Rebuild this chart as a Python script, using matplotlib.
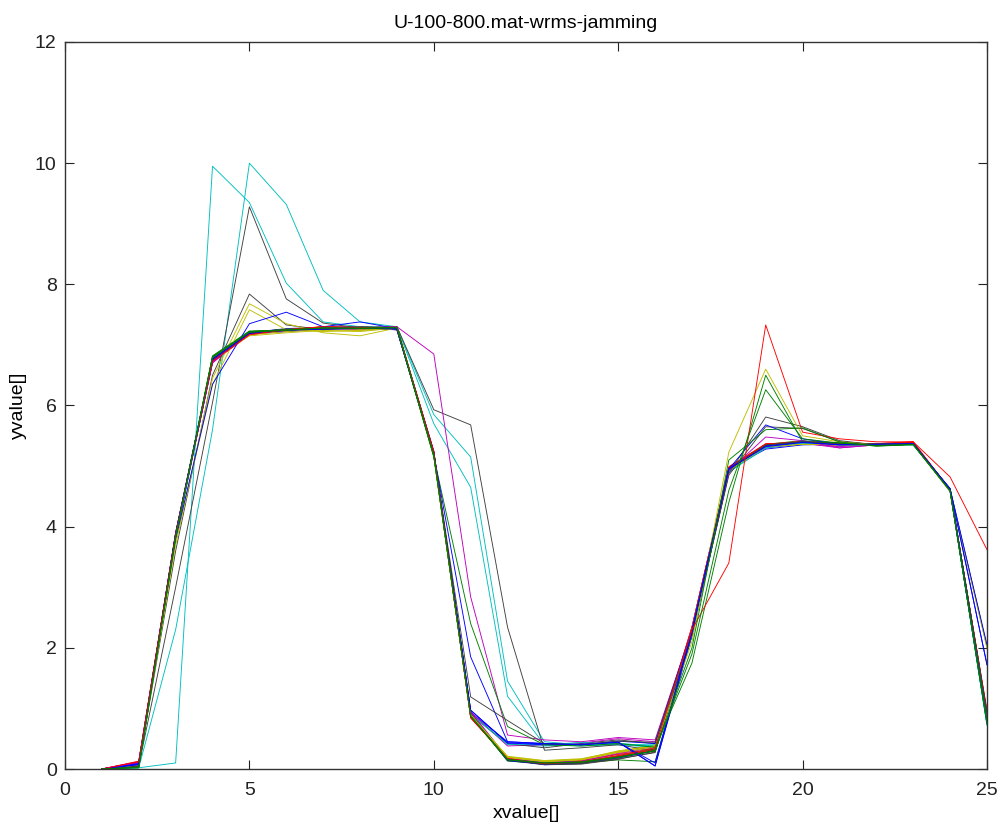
import matplotlib
matplotlib.use("Agg")
import matplotlib.pyplot as plt

plt.rcParams['font.family'] = ['Liberation Sans', 'DejaVu Sans']

# MATLAB default line colours
B, G, R, C, M, Y, K = '#0000ff', '#008000', '#ff0000', '#00bfbf', '#bf00bf', '#bfbf00', '#404040'

x = list(range(1, 26))

# runs that sit in the main bundle
run01 = [0, 0.06, 3.9, 6.78, 7.18, 7.22, 7.26, 7.27, 7.25, 5.22, 0.92, 0.16, 0.07, 0.09, 0.18, 0.3, 2.3, 4.97, 5.33, 5.4, 5.36, 5.35, 5.37, 4.62, 2.02]
run02 = [0, 0.03, 3.82, 6.8, 7.2, 7.24, 7.3, 7.26, 7.28, 5.18, 0.88, 0.13, 0.09, 0.1, 0.15, 0.12, 2.2, 4.9, 5.36, 5.42, 5.38, 5.33, 5.36, 4.58, 0.78]
run03 = [0, 0.12, 3.88, 6.72, 7.16, 7.26, 7.3, 7.29, 7.3, 5.24, 0.85, 0.17, 0.08, 0.12, 0.22, 0.34, 2.35, 4.98, 5.37, 5.38, 5.36, 5.37, 5.4, 4.6, 0.95]
run04 = [0, 0.05, 3.8, 6.74, 7.19, 7.23, 7.27, 7.3, 7.27, 5.2, 0.9, 0.4, 0.38, 0.4, 0.42, 0.38, 2.25, 4.93, 5.34, 5.41, 5.37, 5.36, 5.35, 4.62, 0.74]
run05 = [0, 0.11, 3.86, 6.7, 7.21, 7.22, 7.28, 7.25, 7.26, 5.25, 0.95, 0.18, 0.1, 0.13, 0.25, 0.36, 2.28, 4.96, 5.3, 5.37, 5.32, 5.36, 5.38, 4.59, 0.82]
run06 = [0, 0.07, 3.84, 6.76, 7.15, 7.2, 7.24, 7.22, 7.28, 5.15, 0.87, 0.2, 0.12, 0.15, 0.28, 0.4, 2.32, 4.92, 5.31, 5.36, 5.35, 5.34, 5.36, 4.58, 0.8]
run07 = [0, 0.04, 3.87, 6.77, 7.22, 7.25, 7.26, 7.28, 7.25, 5.2, 0.9, 0.14, 0.07, 0.08, 0.16, 0.28, 2.27, 4.94, 5.35, 5.4, 5.38, 5.35, 5.37, 4.61, 0.92]
run08 = [0, 0.09, 3.83, 6.73, 7.2, 7.27, 7.29, 7.3, 7.27, 5.22, 0.93, 0.45, 0.42, 0.4, 0.45, 0.05, 2.2, 4.95, 5.28, 5.35, 5.36, 5.34, 5.36, 4.63, 1.72]
run09 = [0, 0.02, 3.85, 6.82, 7.23, 7.24, 7.27, 7.28, 7.26, 5.17, 0.86, 0.15, 0.09, 0.11, 0.2, 0.3, 2.3, 4.97, 5.34, 5.39, 5.37, 5.34, 5.36, 4.6, 0.75]
run10 = [0, 0.13, 3.9, 6.74, 7.17, 7.24, 7.29, 7.28, 7.29, 5.23, 0.88, 0.16, 0.1, 0.14, 0.24, 0.33, 2.33, 4.99, 5.36, 5.41, 5.37, 5.36, 5.39, 4.59, 0.97]
run11 = [0, 0.04, 3.82, 6.77, 7.2, 7.26, 7.27, 7.27, 7.28, 5.21, 0.91, 0.17, 0.11, 0.12, 0.22, 0.35, 2.26, 4.93, 5.33, 5.4, 5.36, 5.37, 5.36, 4.6, 0.72]
run12 = [0, 0.1, 3.87, 6.72, 7.18, 7.23, 7.27, 7.29, 7.25, 5.2, 0.94, 0.38, 0.4, 0.43, 0.5, 0.45, 2.3, 4.95, 5.3, 5.38, 5.3, 5.35, 5.37, 4.6, 0.8]
run13 = [0, 0.06, 3.84, 6.79, 7.19, 7.25, 7.28, 7.26, 7.3, 5.19, 0.89, 0.19, 0.13, 0.16, 0.3, 0.38, 2.31, 4.96, 5.32, 5.38, 5.36, 5.34, 5.37, 4.6, 2.0]
run14 = [0, 0.03, 3.86, 6.75, 7.21, 7.26, 7.27, 7.29, 7.28, 5.22, 0.9, 0.42, 0.35, 0.42, 0.48, 0.42, 2.28, 4.94, 5.34, 5.39, 5.37, 5.36, 5.38, 4.62, 0.9]
run15 = [0, 0.08, 3.89, 6.76, 7.19, 7.23, 7.26, 7.28, 7.27, 5.21, 0.92, 0.14, 0.08, 0.1, 0.19, 0.31, 2.29, 4.96, 5.32, 5.39, 5.35, 5.36, 5.37, 4.61, 0.78]
run16 = [0, 0.05, 3.81, 6.8, 7.22, 7.25, 7.29, 7.27, 7.29, 5.16, 0.87, 0.16, 0.1, 0.12, 0.2, 0.33, 2.27, 4.93, 5.35, 5.4, 5.37, 5.35, 5.36, 4.59, 0.76]
run17 = [0, 0.11, 3.88, 6.73, 7.18, 7.25, 7.3, 7.28, 7.28, 5.24, 0.84, 0.18, 0.09, 0.11, 0.21, 0.32, 2.34, 4.97, 5.36, 5.39, 5.38, 5.37, 5.4, 4.61, 0.93]
run18 = [0, 0.06, 3.83, 6.76, 7.21, 7.25, 7.28, 7.29, 7.27, 5.2, 0.9, 0.41, 0.4, 0.44, 0.4, 0.4, 2.28, 4.94, 5.33, 5.4, 5.36, 5.36, 5.35, 4.61, 0.73]
run19 = [0, 0.12, 3.85, 6.71, 7.2, 7.23, 7.26, 7.27, 7.26, 5.23, 0.93, 0.17, 0.11, 0.13, 0.26, 0.37, 2.29, 4.95, 5.31, 5.37, 5.33, 5.35, 5.37, 4.6, 0.81]
run20 = [0, 0.05, 3.86, 6.77, 7.17, 7.22, 7.25, 7.24, 7.28, 5.18, 0.88, 0.21, 0.14, 0.17, 0.29, 0.39, 2.3, 4.93, 5.32, 5.36, 5.35, 5.35, 5.36, 4.59, 0.79]
run21 = [0, 0.04, 3.84, 6.76, 7.21, 7.24, 7.27, 7.27, 7.26, 5.21, 0.91, 0.15, 0.08, 0.09, 0.17, 0.27, 2.26, 4.95, 5.34, 5.4, 5.37, 5.36, 5.37, 4.61, 0.91]

# runs with overshoots or late decay
run22 = [0, 0.02, 0.1, 9.95, 9.35, 8.02, 7.38, 7.3, 7.3, 5.85, 5.15, 1.45, 0.45, 0.4, 0.42, 0.38, 2.25, 4.92, 5.3, 5.38, 5.36, 5.35, 5.36, 4.6, 0.74]
run23 = [0, 0.02, 2.3, 5.6, 10.0, 9.32, 7.9, 7.38, 7.3, 5.7, 4.65, 1.2, 0.4, 0.38, 0.4, 0.36, 2.2, 4.9, 5.3, 5.38, 5.35, 5.34, 5.36, 4.6, 0.74]
run24 = [0, 0.05, 3.0, 6.05, 9.28, 7.76, 7.36, 7.28, 7.3, 5.93, 5.68, 2.34, 0.31, 0.35, 0.4, 0.3, 2.2, 4.88, 5.81, 5.65, 5.42, 5.35, 5.36, 4.6, 0.9]
run25 = [0, 0.06, 3.6, 6.5, 7.84, 7.33, 7.25, 7.3, 7.28, 5.2, 0.9, 0.16, 0.09, 0.1, 0.2, 0.3, 2.25, 4.85, 5.65, 5.62, 5.4, 5.36, 5.37, 4.61, 0.9]
run26 = [0, 0.07, 3.7, 6.45, 7.68, 7.35, 7.2, 7.15, 7.28, 5.18, 0.88, 0.2, 0.13, 0.16, 0.28, 0.38, 2.3, 4.93, 5.32, 5.36, 5.35, 5.35, 5.36, 4.59, 0.8]
run27 = [0, 0.07, 3.75, 6.35, 7.58, 7.25, 7.22, 7.24, 7.27, 5.2, 0.9, 0.19, 0.12, 0.15, 0.27, 0.36, 2.1, 5.23, 6.6, 5.5, 5.4, 5.35, 5.36, 4.6, 2.0]
run28 = [0, 0.08, 3.8, 6.35, 7.35, 7.54, 7.3, 7.38, 7.27, 5.22, 0.97, 0.43, 0.4, 0.41, 0.44, 0.1, 2.28, 4.95, 5.68, 5.45, 5.36, 5.34, 5.36, 4.62, 1.72]
run29 = [0, 0.1, 3.85, 6.72, 7.2, 7.24, 7.28, 7.28, 7.3, 6.85, 2.84, 0.56, 0.48, 0.45, 0.52, 0.48, 2.3, 4.92, 5.48, 5.42, 5.3, 5.35, 5.37, 4.6, 0.8]
run30 = [0, 0.03, 3.83, 6.79, 7.21, 7.24, 7.28, 7.27, 7.28, 5.15, 2.4, 0.7, 0.4, 0.38, 0.42, 0.36, 1.75, 4.4, 6.5, 5.4, 5.38, 5.34, 5.36, 4.6, 0.76]
run31 = [0, 0.07, 3.88, 6.75, 7.18, 7.25, 7.27, 7.28, 7.26, 5.2, 1.85, 0.45, 0.42, 0.4, 0.46, 0.42, 2.3, 4.96, 5.33, 5.4, 5.35, 5.36, 5.37, 4.62, 2.05]
run32 = [0, 0.04, 3.86, 6.76, 7.2, 7.26, 7.27, 7.28, 7.27, 5.21, 1.19, 0.8, 0.42, 0.4, 0.46, 0.44, 2.27, 4.94, 5.35, 5.4, 5.37, 5.36, 5.37, 4.61, 0.92]
run33 = [0, 0.09, 3.87, 6.77, 7.19, 7.24, 7.26, 7.27, 7.27, 5.21, 0.97, 0.43, 0.42, 0.4, 0.44, 0.05, 2.25, 4.95, 5.32, 5.39, 5.35, 5.36, 5.37, 4.61, 0.78]
run34 = [0, 0.12, 3.87, 6.73, 7.17, 7.25, 7.3, 7.29, 7.29, 5.23, 0.86, 0.17, 0.09, 0.12, 0.22, 0.35, 2.3, 3.4, 7.33, 5.56, 5.45, 5.4, 5.4, 4.82, 3.62]
run35 = [0, 0.02, 3.84, 6.81, 7.22, 7.25, 7.28, 7.27, 7.28, 5.17, 0.87, 0.15, 0.1, 0.11, 0.19, 0.3, 1.9, 4.6, 6.26, 5.45, 5.38, 5.34, 5.36, 4.59, 0.75]
run36 = [0, 0.03, 3.83, 6.8, 7.21, 7.24, 7.28, 7.28, 7.29, 5.18, 0.88, 0.16, 0.1, 0.12, 0.2, 0.3, 2.0, 5.1, 5.6, 5.63, 5.4, 5.33, 5.35, 4.59, 0.77]

runs = [run01, run02, run03, run04, run05, run06, run07, run08, run09, run10,
        run11, run12, run13, run14, run15, run16, run17, run18, run19, run20,
        run21, run22, run23, run24, run25, run26, run27, run28, run29, run30,
        run31, run32, run33, run34, run35, run36]
colors = [B, G, R, C, M, Y, K, B, G, R,
          C, M, Y, K, B, G, R, C, M, Y,
          K, C, C, K, K, Y, Y, B, M, G,
          B, K, B, R, G, G]

fig = plt.figure(figsize=(10.03, 8.30), dpi=100)
ax = fig.add_axes([65/1003, 61/830, 922/1003, 727/830])

for yv, col in zip(runs, colors):
    ax.plot(x, yv, color=col, lw=0.65)

ax.set_xlim(0, 25)
ax.set_ylim(0, 12)
ax.set_xticks([0, 5, 10, 15, 20, 25])
ax.set_yticks([0, 2, 4, 6, 8, 10, 12])
ax.tick_params(direction='in', length=6.5, width=0.8, top=True, right=True,
               labelsize=14, colors='#222222')
ax.tick_params(axis='x', pad=9)
ax.tick_params(axis='y', pad=6)
for s in ax.spines.values():
    s.set_linewidth(1.0)
    s.set_color('#333333')

ax.set_title('U-100-800.mat-wrms-jamming', fontsize=14, pad=10)
ax.set_xlabel('xvalue[]', fontsize=14, labelpad=5)
ax.set_ylabel('yvalue[]', fontsize=14, labelpad=6)

fig.savefig('out.png', dpi=100)
